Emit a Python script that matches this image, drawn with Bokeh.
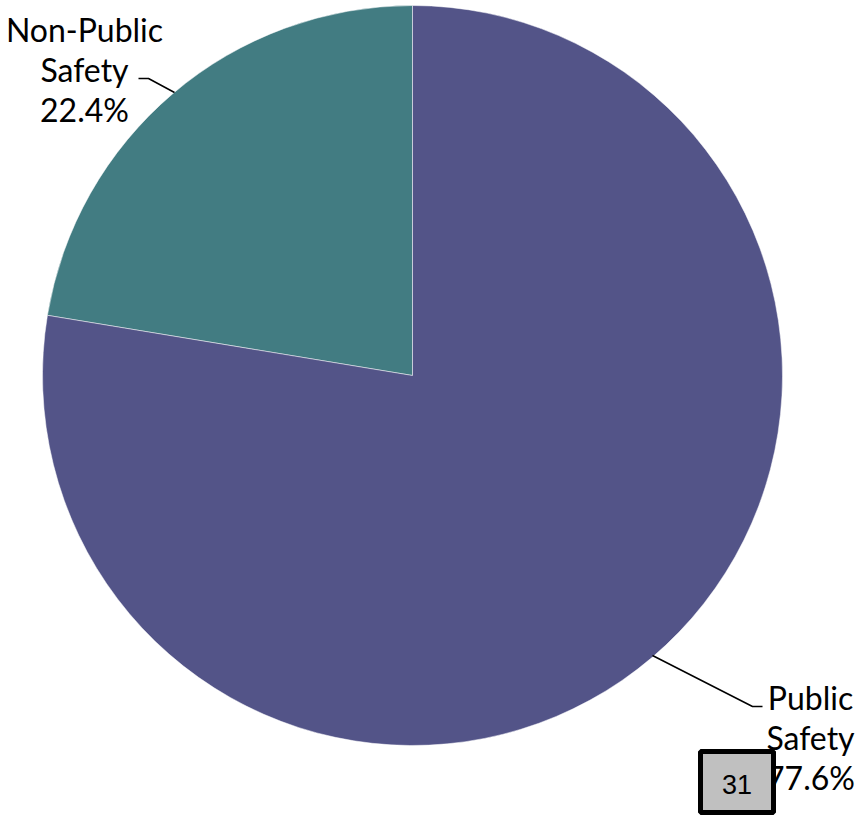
import math
from bokeh.plotting import figure
from bokeh.models import Range1d, ColumnDataSource
from bokeh.core.properties import value
from bokeh.embed import file_html
from bokeh.resources import INLINE

categories = ["Non-Public Safety", "Public Safety"]
percents = [22.4, 77.6]
colors = ["#427C82", "#535488"]

W, H = 866, 818
p = figure(width=W, height=H, x_range=Range1d(0, W), y_range=Range1d(0, H),
           output_backend="svg", toolbar_location=None, min_border=0)
p.axis.visible = False
p.grid.visible = False
p.outline_line_color = None
p.background_fill_color = "white"

cx, cy, r = 412, H - 375, 370
starts, ends = [], []
a = math.pi / 2
for v in percents:
    starts.append(a)
    a += v / 100 * 2 * math.pi
    ends.append(a)
src = ColumnDataSource(dict(cat=categories, pct=percents, start=starts, end=ends, color=colors))
p.wedge(x=cx, y=cy, radius=r, start_angle="start", end_angle="end", fill_color="color",
        line_color="white", line_width=0.5, source=src)

# leader lines
p.line([138, 148, 174], [H - 78, H - 78, H - 92], line_color="black", line_width=1.5)
p.line([652, 752, 762], [H - 655, H - 706, H - 706], line_color="black", line_width=1.5)

font = value("Lato")
def label(lines, xc, ytop, step=40):
    for i, t in enumerate(lines):
        p.text(x=[xc], y=[H - (ytop + i * step)], text=[t], text_font=font,
               text_font_size="32px", text_align="center", text_baseline="top", text_color="black")

label(["Non-Public", "Safety", f"{percents[0]}%"], 84, 9)
label(["Public", "Safety", f"{percents[1]}%"], 810, 677)

# slide number box
p.quad(left=[700], right=[773], top=[H - 751], bottom=[H - 812], fill_color="#C0C0C0",
       line_color="black", line_width=5)
p.text(x=[736.5], y=[H - 784], text=["31"], text_font=value("Liberation Sans"), text_font_size="27px",
       text_align="center", text_baseline="middle", text_color="black")

open("out.html", "w").write(file_html(p, INLINE))
